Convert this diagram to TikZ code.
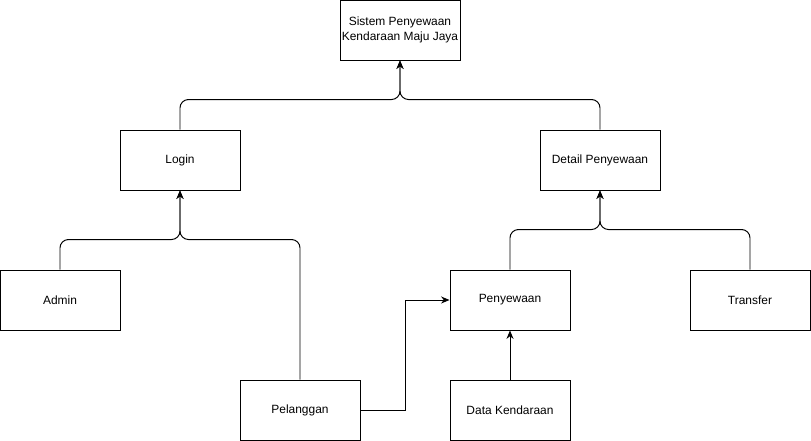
\documentclass[tikz,border=0pt]{standalone}
\usepackage{fontspec}
\setmainfont{Liberation Sans}
\usetikzlibrary{arrows.meta,positioning}
\tikzset{
  box/.style={draw, line width=0.7pt, minimum width=120*0.025cm, minimum height=60*0.025cm,
    inner sep=1pt, align=center, font=\fontsize{8.5}{10.6}\selectfont},
  link/.style={draw, line width=0.7pt, rounded corners=6pt, -{Stealth[length=6pt,width=5pt]}}
}
\begin{document}
\begin{tikzpicture}[x=0.025cm, y=-0.025cm]
			\useasboundingbox (0,0) rectangle (811,441);
			% boxes
			\node[box] (sistem) at (400,30) {Sistem Penyewaan\\Kendaraan Maju Jaya};
			\node[box] (login) at (180,160) {Login};
			\node[box] (detail) at (600,160) {Detail Penyewaan};
			\node[box] (admin) at (60,300) {Admin};
			\node[box] (pelanggan) at (300,410) {Pelanggan};
			\node[box] (sewa) at (510,300) {Penyewaan};
			\node[box] (transfer) at (750,300) {Transfer};
			\node[box] (kendaraan) at (510,410) {Data Kendaraan};
			% connectors
			\draw[link] (login.north) -- ++(0,-30) -| (sistem.south);
			\draw[link] (detail.north) -- ++(0,-30) -| (sistem.south);
			\draw[link] (admin.north) -- ++(0,-30) -| (login.south);
			\draw[link] (pelanggan.north) -- ++(0,-140) -| (login.south);
			\draw[link] (sewa.north) -- ++(0,-40) -| (detail.south);
			\draw[link] (transfer.north) -- ++(0,-40) -| (detail.south);
			\draw[link] (kendaraan.north) -- (sewa.south);
			\draw[link, rounded corners=0pt] (pelanggan.east) -- ++(45,0) |- (sewa.west);
		\end{tikzpicture}
\end{document}
